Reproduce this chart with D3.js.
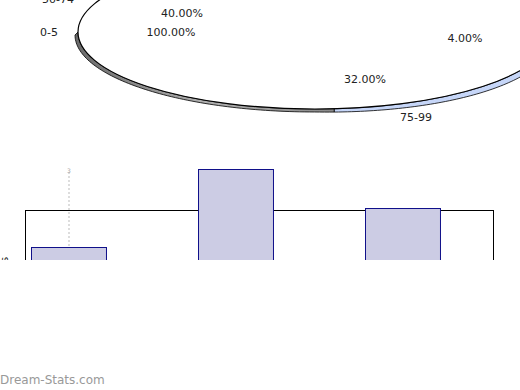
<!DOCTYPE html>
<html>
<head>
<meta charset="utf-8">
<script src="https://cdn.jsdelivr.net/npm/d3@7"></script>
<style>
  body { margin: 0; background: #fff; }
  text { font-family: "DejaVu Sans", sans-serif; }
</style>
</head>
<body>
<div id="chart"></div>
<script>
(function(){
// pie data
const pieCats = ["75-99", "0-5", "50-74", "25-49"];
const pieVals = [32, 40, 24, 4];
const pieColors = ["#c6d6f8", "url(#rimGray)", "url(#rimGray)", "url(#rimGray)"];

// bar data
const barCats = ["50-74", "0-5", "75-99"];
const barVals = [24, 40, 32];

// label placement (layout only)
const pieLabels = [
    { t: "50-74", x: 58, y: 3 },
    { t: "40.00%", x: 182, y: 17 },
    { t: "0-5", x: 49, y: 36 },
    { t: "100.00%", x: 171, y: 36 },
    { t: "24.00%", x: 427, y: 0 },
    { t: "4.00%", x: 465, y: 42 },
    { t: "32.00%", x: 365, y: 83 },
    { t: "75-99", x: 416, y: 121 }
];

const W = 520, H = 390;
const svg = d3.select("#chart").append("svg")
    .attr("width", W).attr("height", H);

const defs = svg.append("defs");
const grad = defs.append("linearGradient").attr("id", "rimGray")
    .attr("x1", 0).attr("y1", 0).attr("x2", 1).attr("y2", 0);
grad.append("stop").attr("offset", "0%").attr("stop-color", "#6a6a6a");
grad.append("stop").attr("offset", "50%").attr("stop-color", "#b0b0b0");
grad.append("stop").attr("offset", "100%").attr("stop-color", "#8a8a8a");

// ---- 3D pie (ellipse) ----
const cx = 315, cy = 32, rx = 237, ry = 77;
const pie = d3.pie().sort(null).startAngle(1.05).endAngle(1.05 + 2 * Math.PI);
const arcs = pie(pieVals);

function pt(a) {
    return [cx + rx * Math.sin(a), cy - ry * Math.cos(a)];
}
// rim is thin on the left, thicker towards the right
function ptLow(a) {
    const s = Math.sin(a);
    const dy = 3 + 4 * Math.max(0, s);
    const dx = -3 * Math.max(0, -s) * Math.max(0, -Math.cos(a) * 0 + 1) ;
    const p = pt(a);
    return [p[0] + dx, p[1] + dy];
}

const g = svg.append("g");

arcs.forEach((d, i) => {
    let a0 = d.startAngle, a1 = d.endAngle;
    const off = Math.floor(a0 / (2 * Math.PI)) * 2 * Math.PI;
    a0 -= off; a1 -= off;
    const lo = Math.max(a0, Math.PI / 2), hi = Math.min(a1, 3 * Math.PI / 2);
    if (hi <= lo) return;
    const n = 80, top = [], bot = [];
    for (let k = 0; k <= n; k++) {
        const a = lo + (hi - lo) * k / n;
        top.push(pt(a));
        bot.push(ptLow(a));
    }
    const pts = top.concat(bot.reverse());
    g.append("path")
        .attr("d", d3.line()(pts) + "Z")
        .attr("fill", pieColors[i])
        .attr("stroke", "#000")
        .attr("stroke-width", 0.8);
});

g.append("ellipse")
    .attr("cx", cx).attr("cy", cy)
    .attr("rx", rx).attr("ry", ry)
    .attr("fill", "#fff")
    .attr("stroke", "#000")
    .attr("stroke-width", 1.2);

g.selectAll(".plabel")
    .data(pieLabels)
    .enter().append("text")
    .attr("class", "plabel")
    .attr("x", d => d.x).attr("y", d => d.y)
    .attr("text-anchor", "middle")
    .style("font-size", "11px")
    .attr("fill", "#222")
    .text(d => d.t);

// ---- bar chart (clipped at y=260) ----
svg.append("clipPath").attr("id", "barclip")
    .append("rect").attr("x", 0).attr("y", 140).attr("width", W).attr("height", 120);

const bg = svg.append("g").attr("clip-path", "url(#barclip)");

const xScale = d3.scaleBand()
    .domain(barCats)
    .range([-15, 486])
    .paddingInner(0.551)
    .paddingOuter(0.2755);

const yScale = d3.scaleLinear()
    .domain([0, 40])
    .range([364, 169]);

bg.append("rect")
    .attr("x", 25.5).attr("y", 210.5)
    .attr("width", 468).attr("height", 200)
    .attr("fill", "none")
    .attr("stroke", "#000")
    .attr("stroke-width", 1);

bg.append("line")
    .attr("x1", 69).attr("x2", 69)
    .attr("y1", 172).attr("y2", 270)
    .attr("stroke", "#bbb")
    .attr("stroke-dasharray", "2,2");

bg.append("text")
    .attr("x", 69).attr("y", 173)
    .attr("text-anchor", "middle")
    .style("font-size", "6px")
    .attr("fill", "#aaa")
    .text("3");

bg.selectAll(".bar")
    .data(barVals)
    .enter().append("rect")
    .attr("class", "bar")
    .attr("x", (d, i) => Math.round(xScale(barCats[i])) + 0.5)
    .attr("y", d => Math.round(yScale(d)) + 0.5)
    .attr("width", xScale.bandwidth())
    .attr("height", d => yScale(0) - yScale(d))
    .attr("fill", "#ccccE4")
    .attr("stroke", "#10108a")
    .attr("stroke-width", 1);

bg.append("text")
    .attr("transform", "translate(8,277) rotate(-90)")
    .attr("text-anchor", "middle")
    .style("font-size", "11px")
    .attr("fill", "#222")
    .text("Visitors");

// watermark
svg.append("text")
    .attr("x", 0).attr("y", 384)
    .style("font-size", "12px")
    .attr("fill", "#999")
    .text("Dream-Stats.com");
})();
</script>
</body>
</html>
